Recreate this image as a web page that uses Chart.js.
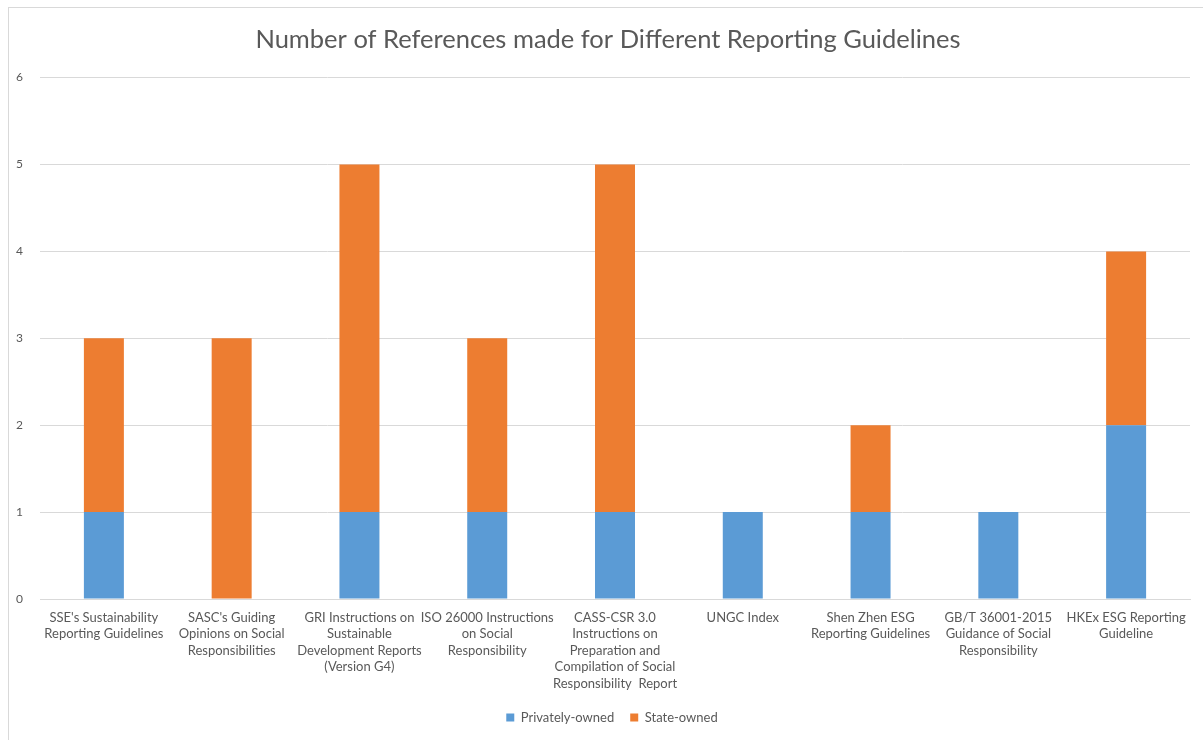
<!DOCTYPE html>
<html>
<head>
<meta charset="utf-8">
<script src="https://cdn.jsdelivr.net/npm/chart.js@4/dist/chart.umd.min.js"></script>
<style>
  html,body{margin:0;padding:0;background:#fff;}
  #frame{position:absolute;left:8px;top:7px;width:1300px;height:800px;border:1px solid #d9d9d9;box-sizing:border-box;}
  #wrap{position:absolute;left:0;top:0;width:1203px;height:740px;}
</style>
</head>
<body>
<div id="frame"></div>
<div id="wrap"><canvas id="c" width="1203" height="740"></canvas></div>
<script>
const categories = [
  ["SSE's Sustainability", "Reporting Guidelines"],
  ["SASC's Guiding", "Opinions on Social", "Responsibilities"],
  ["GRI Instructions on", "Sustainable", "Development Reports", "(Version G4)"],
  ["ISO 26000 Instructions", "on Social", "Responsibility"],
  ["CASS-CSR 3.0", "Instructions on", "Preparation and", "Compilation of Social", "Responsibility  Report"],
  ["UNGC Index"],
  ["Shen Zhen ESG", "Reporting Guidelines"],
  ["GB/T 36001-2015", "Guidance of Social", "Responsibility"],
  ["HKEx ESG Reporting", "Guideline"]
];
const privatelyOwned = [1, 0, 1, 1, 1, 1, 1, 1, 2];
const stateOwned = [2, 3, 4, 2, 4, 0, 1, 0, 2];
const yTicks = [0, 1, 2, 3, 4, 5, 6];
const titleText = "Number of References made for Different Reporting Guidelines";

const FONT = "Lato, 'Open Sans', sans-serif";
const GREY = "#595959";

// shift title and legend boxes slightly right to match the reference centering
const shiftBoxes = {
  id: 'shiftBoxes',
  afterLayout(chart) {
    if (chart.titleBlock) { chart.titleBlock.left += 8; chart.titleBlock.right += 8; }
    if (chart.legend) { chart.legend.left += 12; chart.legend.right += 12; }
  }
};

new Chart(document.getElementById('c'), {
  type: 'bar',
  data: {
    labels: categories,
    datasets: [
      { label: 'Privately-owned', data: privatelyOwned, backgroundColor: '#5B9BD5', borderWidth: 0 },
      { label: 'State-owned', data: stateOwned, backgroundColor: '#ED7D31', borderWidth: 0 }
    ]
  },
  plugins: [shiftBoxes],
  options: {
    responsive: false,
    animation: false,
    devicePixelRatio: 1,
    layout: { padding: { left: 10, right: 13, top: 0, bottom: 6 } },
    datasets: { bar: { categoryPercentage: 1.0, barPercentage: 0.313 } },
    plugins: {
      title: {
        display: true,
        text: titleText,
        color: GREY,
        font: { family: FONT, size: 25.5, weight: 'normal', lineHeight: 1.2 },
        padding: { top: 24, bottom: 23 }
      },
      legend: {
        position: 'bottom',
        labels: {
          color: GREY,
          font: { family: FONT, size: 13 },
          boxWidth: 8,
          boxHeight: 8,
          padding: 16
        }
      },
      tooltip: { enabled: false }
    },
    scales: {
      x: {
        stacked: true,
        grid: { display: false, drawTicks: false },
        border: { display: true, color: '#d9d9d9', width: 1 },
        ticks: {
          color: GREY,
          font: { family: FONT, size: 13, lineHeight: 1.28 },
          padding: 10,
          maxRotation: 0,
          minRotation: 0,
          autoSkip: false
        },
        afterFit: function(scale) { scale.height = 96; }
      },
      y: {
        stacked: true,
        min: 0,
        max: 6,
        afterBuildTicks: function(scale) { scale.ticks = yTicks.map(v => ({ value: v })); },
        grid: { color: '#d9d9d9', lineWidth: 1, drawTicks: false },
        border: { display: false },
        ticks: {
          color: GREY,
          font: { family: FONT, size: 12 },
          padding: 17
        },
        afterFit: function(scale) { scale.width = 30; }
      }
    }
  }
});
</script>
</body>
</html>
